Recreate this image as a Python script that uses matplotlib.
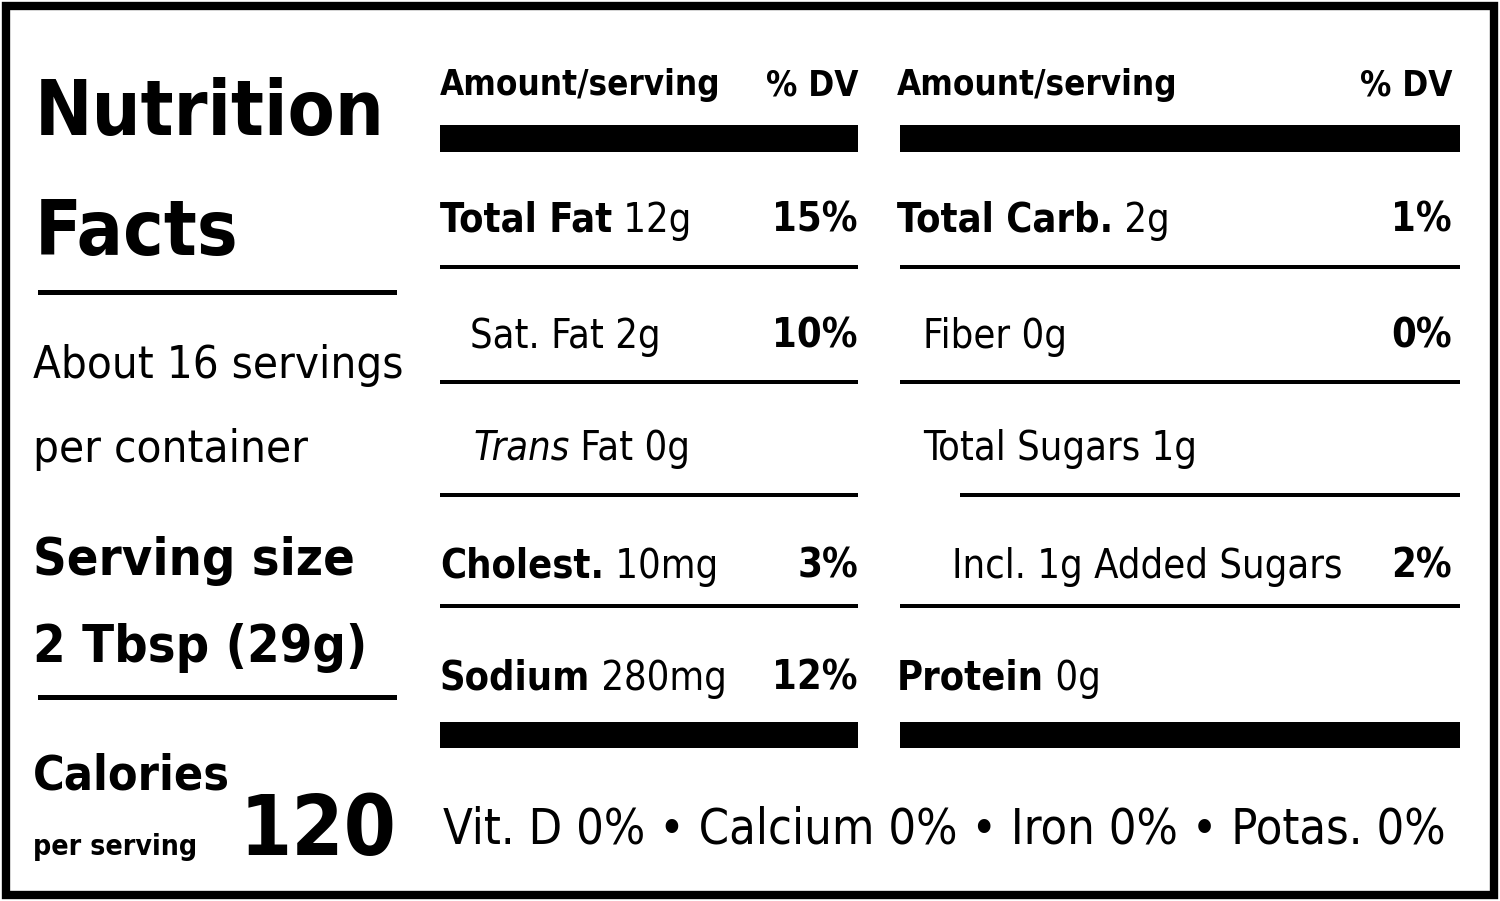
import matplotlib
matplotlib.use('Agg')
import matplotlib.pyplot as plt
from matplotlib.patches import Rectangle

FONT = ['Liberation Sans Narrow', 'DejaVu Sans']

title = ['Nutrition', 'Facts']
servings = ['About 16 servings', 'per container']
serving_size = ['Serving size', '2 Tbsp (29g)']
calories = '120'

# (bold part, regular part, % DV, indent, italic part)
left_rows = [('Total Fat', ' 12g', '15%', 0, ''),
             ('', 'Sat. Fat 2g', '10%', 30, ''),
             ('', ' Fat 0g', '', 33, 'Trans'),
             ('Cholest.', ' 10mg', '3%', 0, ''),
             ('Sodium', ' 280mg', '12%', 0, '')]
right_rows = [('Total Carb.', ' 2g', '1%', 0, ''),
              ('', 'Fiber 0g', '0%', 26, ''),
              ('', 'Total Sugars 1g', '', 26, ''),
              ('', 'Incl. 1g Added Sugars', '2%', 55, ''),
              ('Protein', ' 0g', '', 0, '')]
vitamins = 'Vit. D 0% \u2022 Calcium 0% \u2022 Iron 0% \u2022 Potas. 0%'

fig = plt.figure(figsize=(15, 9.01), dpi=100)
ax = fig.add_axes([0, 0, 1, 1])
ax.set_xlim(0, 1500)
ax.set_ylim(901, 0)
ax.axis('off')
r = fig.canvas.get_renderer()


def width(t):
    return t.get_window_extent(r).width


def put(x, y, s, size, weight='normal', ha='left', style='normal'):
    return ax.text(x, y, s, fontsize=size, fontweight=weight, ha=ha, va='baseline',
                   family=FONT, style=style, stretch='condensed', color='black')


def fit(s, target, weight='normal'):
    t = put(0, 0, s, 50, weight)
    w = width(t)
    t.remove()
    return 50 * target / w


def bar(x0, x1, y, h):
    ax.add_patch(Rectangle((x0, y), x1 - x0, h, color='black', lw=0))


# border
ax.add_patch(Rectangle((6, 6), 1488, 889, fill=False, lw=6, ec='black'))

# left column
s = fit(title[0], 350, 'bold')
put(35, 135, title[0], s, 'bold')
put(35, 255, title[1], s, 'bold')
bar(38, 397, 290, 5)
s = fit(servings[0], 370)
put(33, 378, servings[0], s)
put(33, 462, servings[1], s)
s = fit(serving_size[0], 322, 'bold')
put(33, 575, serving_size[0], s, 'bold')
put(33, 662, serving_size[1], s, 'bold')
bar(38, 397, 695, 5)
put(33, 790, 'Calories', fit('Calories', 197, 'bold'), 'bold')
put(33, 855, 'per serving', fit('per serving', 164, 'bold'), 'bold')
put(397, 855, calories, fit(calories, 157, 'bold'), 'bold', ha='right')

# headers and rules
hs = fit('Amount/serving', 280, 'bold')
rs = fit('Total Fat 12g', 260, 'bold')
for x0, x1, lx, rx, rows in [(440, 858, 440, 858, left_rows),
                             (900, 1460, 897, 1452, right_rows)]:
    put(lx, 95, 'Amount/serving', hs, 'bold')
    put(rx, 95, '% DV', hs, 'bold', ha='right')
    bar(x0, x1, 125, 27)
    bar(x0, x1, 722, 26)
    ys = [232, 348, 460, 578, 690]
    lines = [267, 382, 495, 606]
    for i, (b, reg, dv, ind, it) in enumerate(rows):
        x = lx + ind
        y = ys[i]
        for part, w_, st in [(it, 'normal', 'italic'), (b, 'bold', 'normal'),
                             (reg, 'normal', 'normal')]:
            if part:
                t = put(x, y, part, rs, w_, style=st)
                x += width(t)
        if dv:
            put(rx, y, dv, rs, 'bold', ha='right')
        if i < 4:
            start = x0 + (60 if (rows is right_rows and i == 2) else 0)
            bar(start, x1, lines[i] - 2, 4)

put(443, 843, vitamins, fit(vitamins, 1004))

fig.savefig('out.png', dpi=100)
